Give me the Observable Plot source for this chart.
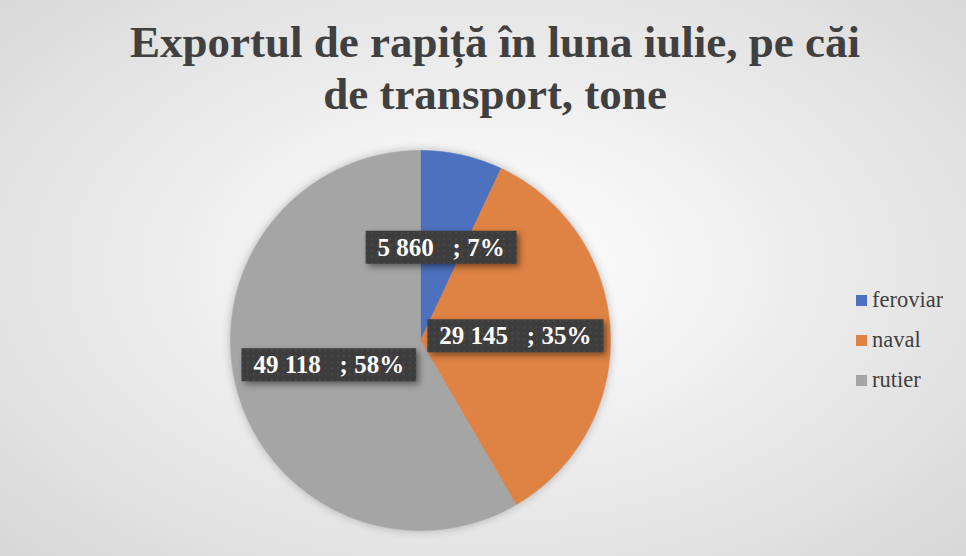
<!DOCTYPE html>
<html><head><meta charset="utf-8">
<script src="https://cdn.jsdelivr.net/npm/d3@7"></script>
<script src="https://cdn.jsdelivr.net/npm/@observablehq/plot@0.6"></script>
<style>
body{margin:0;background:#fff;}
#chart{position:relative;width:966px;height:556px;overflow:hidden;
  background:radial-gradient(ellipse 75% 80% at 50% 48%, #ffffff 0%, #f3f3f3 30%, #d4d4d4 100%);}
#title{position:absolute;left:12px;top:16px;width:966px;text-align:center;
  font:bold 45px "Liberation Serif","Times New Roman",serif;line-height:52px;color:#404040;}
#plot{position:absolute;left:0;top:0;}
#legend{position:absolute;left:856px;top:280px;}
#legend, #legend *{font-family:"Liberation Serif","Times New Roman",serif !important;font-size:22.5px !important;color:#404040 !important;}
#legend .lg-swatches{margin:0;min-height:0;}
#legend .lg-swatch{height:40px;padding-bottom:0;display:flex;align-items:center;}
#legend .lg-swatch svg{margin-right:5px;}
</style></head>
<body>
<div id="chart">
  <div id="plot"></div>
  <div id="title">Exportul de rapiță în luna iulie, pe căi<br>de transport, tone</div>
  <div id="legend"></div>
</div>
<script>
const categories = ["feroviar", "naval", "rutier"];
const values = [5860, 29145, 49118];
const colors = ["#4D71BE", "#DF8344", "#A5A5A5"];

const data = categories.map((c, i) => ({cat: c, value: values[i]}));
const total = d3.sum(values);
const fmtNum = d3.formatLocale({decimal: ",", thousands: " ", grouping: [3], currency: ["", ""]}).format(",d");

const arcs = d3.pie().sort(null).value(d => d.value)(data);
const slicePts = [];
arcs.forEach(a => {
  const n = Math.max(2, Math.ceil((a.endAngle - a.startAngle) / (Math.PI / 360)));
  slicePts.push({cat: a.data.cat, x: 0, y: 0});
  for (let i = 0; i <= n; i++) {
    const t = a.startAngle + (a.endAngle - a.startAngle) * i / n;
    slicePts.push({cat: a.data.cat, x: Math.sin(t), y: Math.cos(t)});
  }
  slicePts.push({cat: a.data.cat, x: 0, y: 0});
});
const labels = arcs.map(a => {
  const m = (a.startAngle + a.endAngle) / 2;
  const pct = Math.round(a.data.value / total * 100);
  return {cat: a.data.cat, x: 0.5 * Math.sin(m), y: 0.5 * Math.cos(m),
    text: fmtNum(a.data.value) + "\u00a0\u00a0\u00a0; " + pct + "%"};
});

const plot = Plot.plot({
  width: 966, height: 556, margin: 0,
  style: {background: "transparent", overflow: "visible"},
  x: {domain: [-1, 1], range: [230, 610], axis: null},
  y: {domain: [-1, 1], range: [530, 150], axis: null},
  color: {domain: categories, range: colors},
  marks: [
    Plot.line(slicePts, {x: "x", y: "y", z: "cat", fill: "cat", stroke: "cat", strokeWidth: 0.5, className: "slices"}),
    Plot.text(labels, {x: "x", y: "y", text: "text", fill: "white", fontSize: 25, fontWeight: "bold",
      fontFamily: "Liberation Serif", className: "labels"})
  ]
});
document.getElementById("plot").appendChild(plot);

// defs: dotted pattern for label boxes
const svg = d3.select(plot);
const defs = svg.insert("defs", ":first-child");
const pat = defs.append("pattern").attr("id", "dots").attr("width", 6).attr("height", 6).attr("patternUnits", "userSpaceOnUse");
pat.append("rect").attr("width", 6).attr("height", 6).attr("fill", "#3d3d3d");
pat.append("circle").attr("cx", 3).attr("cy", 3).attr("r", 0.8).attr("fill", "#575757");

svg.select("g.slices").style("filter", "drop-shadow(0px 0px 4px rgba(0,0,0,0.25))");

svg.selectAll("g.labels text").each(function() {
  const bb = this.getBBox();
  const padX = 12, boxH = 33;
  const cy = bb.y + bb.height / 2;
  d3.select(this.parentNode).insert("rect", () => this)
    .attr("transform", this.getAttribute("transform"))
    .attr("x", bb.x - padX).attr("y", cy - boxH / 2)
    .attr("width", bb.width + 2 * padX).attr("height", boxH)
    .attr("fill", "url(#dots)").attr("stroke", "none")
    .style("filter", "drop-shadow(3px 3px 3px rgba(0,0,0,0.45))");
});

const leg = Plot.legend({color: {domain: categories, range: colors}, legend: "swatches", columns: 1, swatchSize: 11, className: "lg"});
document.getElementById("legend").appendChild(leg);
</script>
</body></html>
